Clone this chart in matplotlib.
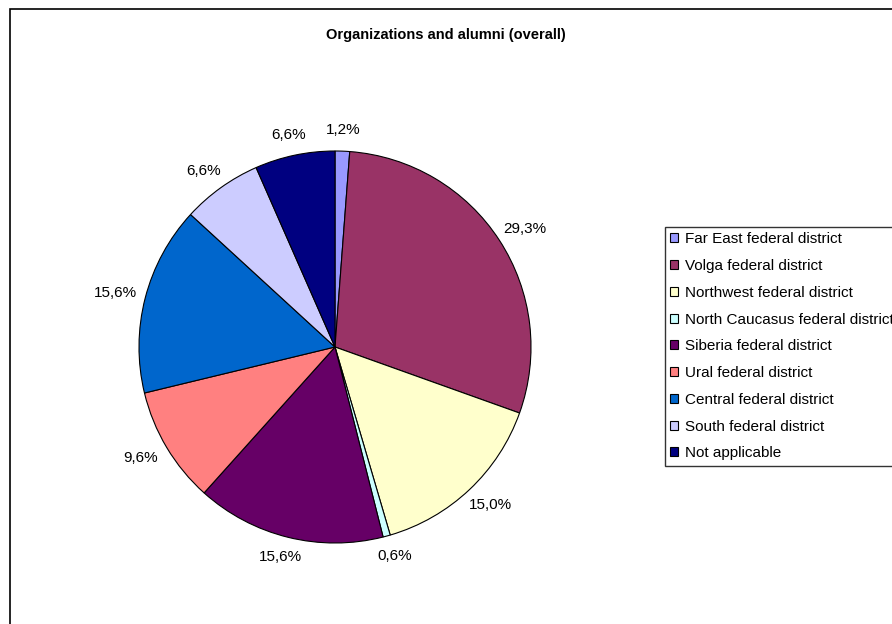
import numpy as np
import matplotlib
matplotlib.use("Agg")
import matplotlib.pyplot as plt
from matplotlib.patches import Rectangle

plt.rcParams["font.family"] = ["Liberation Sans", "DejaVu Sans"]

districts = ["Far East federal district", "Volga federal district",
             "Northwest federal district", "North Caucasus federal district",
             "Siberia federal district", "Ural federal district",
             "Central federal district", "South federal district", "Not applicable"]
shares = [1.2, 29.3, 15.0, 0.6, 15.6, 9.6, 15.6, 6.6, 6.6]
colors = ["#9999FF", "#993366", "#FFFFCC", "#CCFFFF", "#660066",
          "#FF8080", "#0066CC", "#CCCCFF", "#000080"]

W, H = 892, 624
fig = plt.figure(figsize=(W / 100, H / 100), dpi=100)
ax = fig.add_axes([0, 0, 1, 1])

cx, cy, R = 335, H - 347, 196
wedges, _ = ax.pie(shares, colors=colors, startangle=90, counterclock=False,
                   center=(cx, cy), radius=R, frame=True,
                   wedgeprops=dict(edgecolor="black", linewidth=0.8))

# Excel-style labels: anchor just outside the rim, push the text box outward
for w, s in zip(wedges, shares):
    mid = np.deg2rad((w.theta1 + w.theta2) / 2)
    c, sn = np.cos(mid), np.sin(mid)
    ax.annotate(f"{s:.1f}%".replace(".", ","),
                xy=(cx + 1.07 * R * c, cy + 1.07 * R * sn),
                xytext=(12 * c, 5 * sn), textcoords="offset points",
                ha="center", va="center", fontsize=11)

ax.set_xlim(0, W)
ax.set_ylim(0, H)
ax.set_aspect("equal")
ax.axis("off")

# outer chart border
ax.add_patch(Rectangle((10, -20), 1000, H - 9 + 20, fill=False,
                       edgecolor="black", linewidth=1.2))

ax.text(446, H - 35, "Organizations and alumni (overall)", ha="center", va="center",
        fontsize=10.5, fontweight="bold")

leg = ax.legend(wedges, districts, loc="upper left",
                bbox_to_anchor=(665 / W, 1 - 227 / H), bbox_transform=fig.transFigure,
                fontsize=11, frameon=True, fancybox=False, shadow=False,
                handlelength=0.53, handleheight=0.53, handletextpad=0.4,
                labelspacing=0.835, borderpad=0.35, borderaxespad=0)
leg.get_frame().set_edgecolor("black")
leg.get_frame().set_linewidth(1.0)

fig.savefig("out.png", dpi=100)
